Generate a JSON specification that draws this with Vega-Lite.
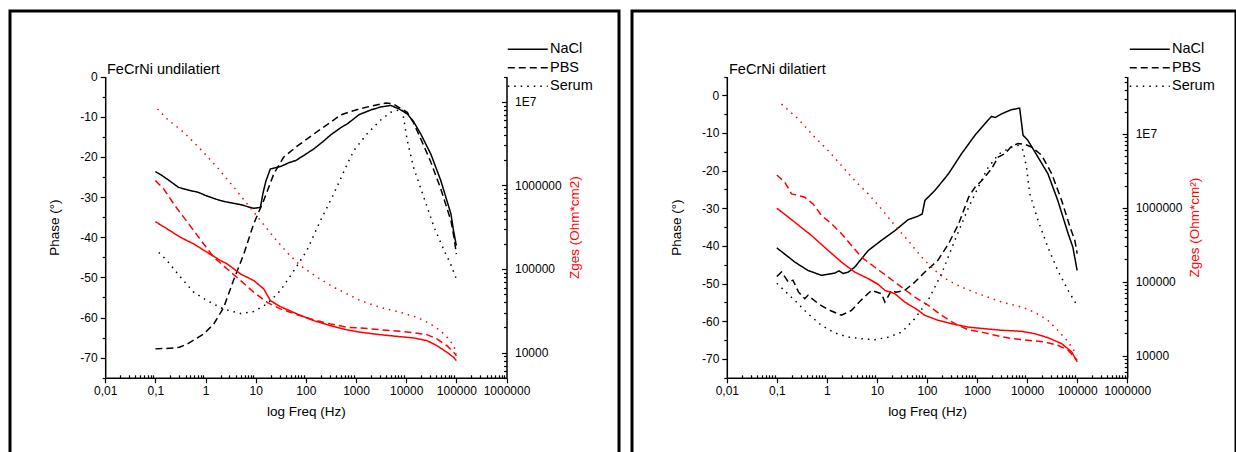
{
  "$schema": "https://vega.github.io/schema/vega-lite/v6.json",
  "padding": {"left": 8, "top": 9, "right": 0, "bottom": 0},
  "autosize": {"type": "pad"},
  "config": {
    "view": {"stroke": "black", "strokeWidth": 3},
    "font": "Liberation Sans",
    "axis": {"grid": false, "domainColor": "black", "domainWidth": 1.5, "tickColor": "black", "tickWidth": 1.2, "labelColor": "black", "labelFontSize": 12, "titleFontSize": 13.5, "titleFontWeight": "normal", "titleColor": "black", "labelFlush": false, "labelOverlap": false},
    "legend": {"orient": "none", "title": null, "symbolType": "M-4,0H4", "symbolSize": 100, "symbolStrokeWidth": 1.5, "symbolStrokeColor": "black", "labelFontSize": 14.5, "labelColor": "black", "labelOffset": 15, "padding": 0, "rowPadding": 3.5},
    "title": {"fontSize": 14.5, "fontWeight": "normal", "color": "black", "anchor": "start", "frame": "group"}
  },
  "datasets": {
    "pL": [
      {"f":0.1,"m":"NaCl","v":-23.7},{"f":0.13,"m":"NaCl","v":-24.5},{"f":0.17,"m":"NaCl","v":-25.5},{"f":0.29,"m":"NaCl","v":-27.6},{"f":0.5,"m":"NaCl","v":-28.4},{"f":0.7,"m":"NaCl","v":-28.8},{"f":1,"m":"NaCl","v":-29.6},{"f":1.5,"m":"NaCl","v":-30.4},{"f":2,"m":"NaCl","v":-30.9},{"f":2.8,"m":"NaCl","v":-31.3},{"f":5,"m":"NaCl","v":-31.9},{"f":9,"m":"NaCl","v":-32.8},{"f":12.4,"m":"NaCl","v":-32.6},{"f":14,"m":"NaCl","v":-29},{"f":16,"m":"NaCl","v":-26},{"f":19.6,"m":"NaCl","v":-23},{"f":25,"m":"NaCl","v":-22.7},{"f":31.5,"m":"NaCl","v":-22.4},{"f":45,"m":"NaCl","v":-21.5},{"f":63,"m":"NaCl","v":-20.9},{"f":90,"m":"NaCl","v":-19.7},{"f":145,"m":"NaCl","v":-18},{"f":220,"m":"NaCl","v":-16.2},{"f":315,"m":"NaCl","v":-14.5},{"f":490,"m":"NaCl","v":-12.8},{"f":670,"m":"NaCl","v":-11.8},{"f":1150,"m":"NaCl","v":-9.5},{"f":2000,"m":"NaCl","v":-8.3},{"f":3100,"m":"NaCl","v":-7.6},{"f":4900,"m":"NaCl","v":-7.2},{"f":7000,"m":"NaCl","v":-8},{"f":10500,"m":"NaCl","v":-9.3},{"f":14000,"m":"NaCl","v":-11.2},{"f":19500,"m":"NaCl","v":-14.3},{"f":31000,"m":"NaCl","v":-19.3},{"f":49000,"m":"NaCl","v":-25.9},{"f":78000,"m":"NaCl","v":-34.2},{"f":88000,"m":"NaCl","v":-38.4},{"f":100000,"m":"NaCl","v":-42.1},
      {"f":0.1,"m":"PBS","v":-67.8},{"f":0.23,"m":"PBS","v":-67.6},{"f":0.3,"m":"PBS","v":-67.4},{"f":0.43,"m":"PBS","v":-66.6},{"f":0.92,"m":"PBS","v":-64.1},{"f":1.46,"m":"PBS","v":-61.6},{"f":2.3,"m":"PBS","v":-57.5},{"f":3.6,"m":"PBS","v":-50.8},{"f":5.8,"m":"PBS","v":-44.2},{"f":9.1,"m":"PBS","v":-36.7},{"f":14.4,"m":"PBS","v":-30.9},{"f":23,"m":"PBS","v":-24.2},{"f":36,"m":"PBS","v":-20.1},{"f":66,"m":"PBS","v":-17.4},{"f":145,"m":"PBS","v":-14.3},{"f":310,"m":"PBS","v":-11.4},{"f":490,"m":"PBS","v":-9.6},{"f":780,"m":"PBS","v":-8.7},{"f":1230,"m":"PBS","v":-8},{"f":2300,"m":"PBS","v":-7.2},{"f":4000,"m":"PBS","v":-6.6},{"f":5500,"m":"PBS","v":-6.8},{"f":7000,"m":"PBS","v":-7.6},{"f":10500,"m":"PBS","v":-8.9},{"f":14000,"m":"PBS","v":-11.5},{"f":19500,"m":"PBS","v":-15.5},{"f":31000,"m":"PBS","v":-21.3},{"f":49000,"m":"PBS","v":-28},{"f":78000,"m":"PBS","v":-35.9},{"f":90000,"m":"PBS","v":-40.1},{"f":100000,"m":"PBS","v":-44.2},
      {"f":0.117,"m":"Serum","v":-43.8},{"f":0.17,"m":"Serum","v":-45.8},{"f":0.32,"m":"Serum","v":-50},{"f":0.58,"m":"Serum","v":-53.7},{"f":1.08,"m":"Serum","v":-55.8},{"f":2.3,"m":"Serum","v":-57.9},{"f":5,"m":"Serum","v":-59},{"f":9.1,"m":"Serum","v":-58.5},{"f":17,"m":"Serum","v":-56.6},{"f":31,"m":"Serum","v":-53.3},{"f":58,"m":"Serum","v":-48.3},{"f":105,"m":"Serum","v":-43.3},{"f":195,"m":"Serum","v":-35.9},{"f":360,"m":"Serum","v":-29.2},{"f":670,"m":"Serum","v":-21.8},{"f":910,"m":"Serum","v":-18.4},{"f":1650,"m":"Serum","v":-14.3},{"f":3000,"m":"Serum","v":-11},{"f":4900,"m":"Serum","v":-8.9},{"f":8300,"m":"Serum","v":-8.1},{"f":9300,"m":"Serum","v":-11.8},{"f":10500,"m":"Serum","v":-15.9},{"f":14000,"m":"Serum","v":-22.6},{"f":22500,"m":"Serum","v":-30.1},{"f":36000,"m":"Serum","v":-37.5},{"f":57000,"m":"Serum","v":-43.3},{"f":77000,"m":"Serum","v":-46.7},{"f":100000,"m":"Serum","v":-50.4}
    ],
    "zL": [
      {"f":0.1,"m":"NaCl","v":368000},{"f":0.172,"m":"NaCl","v":301000},{"f":0.317,"m":"NaCl","v":239000},{"f":0.584,"m":"NaCl","v":199000},{"f":1.08,"m":"NaCl","v":158000},{"f":1.99,"m":"NaCl","v":126000},{"f":2.7,"m":"NaCl","v":115000},{"f":5,"m":"NaCl","v":87100},{"f":9.2,"m":"NaCl","v":72600},{"f":14.5,"m":"NaCl","v":57700},{"f":19.7,"m":"NaCl","v":41800},{"f":31,"m":"NaCl","v":35500},{"f":67,"m":"NaCl","v":29000},{"f":144,"m":"NaCl","v":24100},{"f":310,"m":"NaCl","v":21000},{"f":668,"m":"NaCl","v":18700},{"f":1230,"m":"NaCl","v":17500},{"f":3000,"m":"NaCl","v":16400},{"f":7600,"m":"NaCl","v":15500},{"f":14000,"m":"NaCl","v":15000},{"f":26000,"m":"NaCl","v":13900},{"f":41000,"m":"NaCl","v":12100},{"f":65000,"m":"NaCl","v":10100},{"f":88000,"m":"NaCl","v":8790},{"f":100000,"m":"NaCl","v":8020},
      {"f":0.1,"m":"PBS","v":1138000},{"f":0.147,"m":"PBS","v":904000},{"f":0.233,"m":"PBS","v":598000},{"f":0.368,"m":"PBS","v":414000},{"f":0.584,"m":"PBS","v":287000},{"f":0.92,"m":"PBS","v":199000},{"f":1.46,"m":"PBS","v":138000},{"f":2.7,"m":"PBS","v":100000},{"f":5,"m":"PBS","v":72600},{"f":9.2,"m":"PBS","v":52600},{"f":17,"m":"PBS","v":39900},{"f":31,"m":"PBS","v":33300},{"f":67,"m":"PBS","v":28400},{"f":144,"m":"PBS","v":24600},{"f":310,"m":"PBS","v":22000},{"f":668,"m":"PBS","v":20100},{"f":1230,"m":"PBS","v":19700},{"f":3000,"m":"PBS","v":18800},{"f":7600,"m":"PBS","v":18000},{"f":14000,"m":"PBS","v":17300},{"f":26000,"m":"PBS","v":16400},{"f":41000,"m":"PBS","v":14600},{"f":65000,"m":"PBS","v":12100},{"f":95000,"m":"PBS","v":9640},{"f":100000,"m":"PBS","v":9120},
      {"f":0.11,"m":"Serum","v":8180000},{"f":0.172,"m":"Serum","v":6210000},{"f":0.368,"m":"Serum","v":4300000},{"f":0.79,"m":"Serum","v":2720000},{"f":1.71,"m":"Serum","v":1640000},{"f":3.67,"m":"Serum","v":946000},{"f":6.8,"m":"Serum","v":598000},{"f":12.5,"m":"Serum","v":378000},{"f":23,"m":"Serum","v":239000},{"f":42,"m":"Serum","v":158000},{"f":78,"m":"Serum","v":110000},{"f":169,"m":"Serum","v":79400},{"f":361,"m":"Serum","v":60400},{"f":776,"m":"Serum","v":48000},{"f":1230,"m":"Serum","v":41800},{"f":3000,"m":"Serum","v":34800},{"f":7700,"m":"Serum","v":30300},{"f":16600,"m":"Serum","v":26400},{"f":30500,"m":"Serum","v":22000},{"f":48000,"m":"Serum","v":18300},{"f":65800,"m":"Serum","v":15200},{"f":89000,"m":"Serum","v":12100},{"f":100000,"m":"Serum","v":9640}
    ],
    "pR": [
      {"f":0.1,"m":"NaCl","v":-40.5},{"f":0.23,"m":"NaCl","v":-44.3},{"f":0.42,"m":"NaCl","v":-46.5},{"f":0.78,"m":"NaCl","v":-47.8},{"f":1.44,"m":"NaCl","v":-47.2},{"f":1.75,"m":"NaCl","v":-46.6},{"f":2.1,"m":"NaCl","v":-47.3},{"f":2.7,"m":"NaCl","v":-46.9},{"f":3.6,"m":"NaCl","v":-45.6},{"f":6.7,"m":"NaCl","v":-41.2},{"f":12.3,"m":"NaCl","v":-38.5},{"f":23,"m":"NaCl","v":-35.9},{"f":42,"m":"NaCl","v":-33},{"f":66,"m":"NaCl","v":-32.1},{"f":80,"m":"NaCl","v":-31.5},{"f":91,"m":"NaCl","v":-27.9},{"f":145,"m":"NaCl","v":-25.2},{"f":270,"m":"NaCl","v":-20.8},{"f":490,"m":"NaCl","v":-15.5},{"f":910,"m":"NaCl","v":-10.6},{"f":1650,"m":"NaCl","v":-6.6},{"f":1950,"m":"NaCl","v":-5.6},{"f":2300,"m":"NaCl","v":-5.9},{"f":3100,"m":"NaCl","v":-4.9},{"f":4900,"m":"NaCl","v":-3.8},{"f":7100,"m":"NaCl","v":-3.4},{"f":8300,"m":"NaCl","v":-10.6},{"f":10300,"m":"NaCl","v":-11.9},{"f":16500,"m":"NaCl","v":-16.4},{"f":26000,"m":"NaCl","v":-20.8},{"f":41000,"m":"NaCl","v":-27.9},{"f":66000,"m":"NaCl","v":-36.7},{"f":82000,"m":"NaCl","v":-40.3},{"f":100000,"m":"NaCl","v":-46.5},
      {"f":0.1,"m":"PBS","v":-48.1},{"f":0.124,"m":"PBS","v":-46.9},{"f":0.17,"m":"PBS","v":-49.6},{"f":0.21,"m":"PBS","v":-49.1},{"f":0.27,"m":"PBS","v":-52.2},{"f":0.36,"m":"PBS","v":-54},{"f":0.42,"m":"PBS","v":-53.1},{"f":0.67,"m":"PBS","v":-55.3},{"f":1.06,"m":"PBS","v":-56.9},{"f":1.95,"m":"PBS","v":-58.4},{"f":3.1,"m":"PBS","v":-57.1},{"f":4.9,"m":"PBS","v":-54.3},{"f":7.8,"m":"PBS","v":-51.8},{"f":12.4,"m":"PBS","v":-52.7},{"f":14.4,"m":"PBS","v":-54.9},{"f":19.5,"m":"PBS","v":-51.8},{"f":24,"m":"PBS","v":-52.3},{"f":36,"m":"PBS","v":-51.8},{"f":57,"m":"PBS","v":-49.6},{"f":91,"m":"PBS","v":-46.9},{"f":165,"m":"PBS","v":-43.8},{"f":270,"m":"PBS","v":-39.4},{"f":430,"m":"PBS","v":-34.1},{"f":680,"m":"PBS","v":-27},{"f":910,"m":"PBS","v":-24.4},{"f":1230,"m":"PBS","v":-22.7},{"f":1950,"m":"PBS","v":-19.5},{"f":2650,"m":"PBS","v":-16.4},{"f":3600,"m":"PBS","v":-15.5},{"f":4900,"m":"PBS","v":-13.5},{"f":6600,"m":"PBS","v":-12.8},{"f":9000,"m":"PBS","v":-13},{"f":12200,"m":"PBS","v":-13.7},{"f":19500,"m":"PBS","v":-15.9},{"f":31000,"m":"PBS","v":-20.8},{"f":49000,"m":"PBS","v":-27.9},{"f":72000,"m":"PBS","v":-35},{"f":90000,"m":"PBS","v":-38.5},{"f":100000,"m":"PBS","v":-42},
      {"f":0.1,"m":"Serum","v":-49.9},{"f":0.14,"m":"Serum","v":-51.8},{"f":0.23,"m":"Serum","v":-54.5},{"f":0.42,"m":"Serum","v":-58},{"f":0.78,"m":"Serum","v":-61.1},{"f":1.44,"m":"Serum","v":-63.1},{"f":2.7,"m":"Serum","v":-64.2},{"f":4.9,"m":"Serum","v":-64.6},{"f":9.1,"m":"Serum","v":-64.9},{"f":17,"m":"Serum","v":-64.2},{"f":31,"m":"Serum","v":-62.9},{"f":57,"m":"Serum","v":-59.3},{"f":105,"m":"Serum","v":-54.5},{"f":195,"m":"Serum","v":-47.4},{"f":360,"m":"Serum","v":-38.5},{"f":680,"m":"Serum","v":-29.7},{"f":1050,"m":"Serum","v":-24.5},{"f":1600,"m":"Serum","v":-19.5},{"f":2700,"m":"Serum","v":-15.6},{"f":4600,"m":"Serum","v":-13.9},{"f":6600,"m":"Serum","v":-13.3},{"f":8300,"m":"Serum","v":-14.6},{"f":9700,"m":"Serum","v":-19},{"f":11300,"m":"Serum","v":-26.1},{"f":16500,"m":"Serum","v":-33.2},{"f":26000,"m":"Serum","v":-40.3},{"f":41000,"m":"Serum","v":-46.5},{"f":66000,"m":"Serum","v":-51.8},{"f":100000,"m":"Serum","v":-55.8}
    ],
    "zR": [
      {"f":0.1,"m":"NaCl","v":988000},{"f":0.229,"m":"NaCl","v":638000},{"f":0.49,"m":"NaCl","v":423000},{"f":1.06,"m":"NaCl","v":265000},{"f":1.96,"m":"NaCl","v":184000},{"f":3.6,"m":"NaCl","v":135000},{"f":6.7,"m":"NaCl","v":110000},{"f":10.6,"m":"NaCl","v":92000},{"f":14.4,"m":"NaCl","v":76200},{"f":22.7,"m":"NaCl","v":68900},{"f":36,"m":"NaCl","v":53000},{"f":67,"m":"NaCl","v":40900},{"f":90,"m":"NaCl","v":35100},{"f":167,"m":"NaCl","v":30000},{"f":309,"m":"NaCl","v":27000},{"f":666,"m":"NaCl","v":24300},{"f":1230,"m":"NaCl","v":23300},{"f":3100,"m":"NaCl","v":22000},{"f":7800,"m":"NaCl","v":21300},{"f":14000,"m":"NaCl","v":19800},{"f":26000,"m":"NaCl","v":17500},{"f":49000,"m":"NaCl","v":14500},{"f":78000,"m":"NaCl","v":11200},{"f":100000,"m":"NaCl","v":8200},
      {"f":0.1,"m":"PBS","v":2790000},{"f":0.144,"m":"PBS","v":2220000},{"f":0.196,"m":"PBS","v":1545000},{"f":0.23,"m":"PBS","v":1510000},{"f":0.36,"m":"PBS","v":1390000},{"f":0.53,"m":"PBS","v":1130000},{"f":0.78,"m":"PBS","v":787000},{"f":1.24,"m":"PBS","v":608000},{"f":1.96,"m":"PBS","v":446000},{"f":3.1,"m":"PBS","v":310000},{"f":4.9,"m":"PBS","v":215000},{"f":9.1,"m":"PBS","v":157000},{"f":16.8,"m":"PBS","v":115000},{"f":31,"m":"PBS","v":84500},{"f":57,"m":"PBS","v":61900},{"f":106,"m":"PBS","v":47900},{"f":195,"m":"PBS","v":35100},{"f":359,"m":"PBS","v":27000},{"f":666,"m":"PBS","v":22400},{"f":1230,"m":"PBS","v":20800},{"f":2300,"m":"PBS","v":18800},{"f":4900,"m":"PBS","v":17000},{"f":10300,"m":"PBS","v":16100},{"f":22000,"m":"PBS","v":15300},{"f":41000,"m":"PBS","v":13800},{"f":66000,"m":"PBS","v":11800},{"f":100000,"m":"PBS","v":8630},
      {"f":0.124,"m":"Serum","v":25400000},{"f":0.267,"m":"Serum","v":16000000},{"f":0.573,"m":"Serum","v":9020000},{"f":1.06,"m":"Serum","v":5960000},{"f":1.96,"m":"Serum","v":3730000},{"f":3.6,"m":"Serum","v":2340000},{"f":6.7,"m":"Serum","v":1545000},{"f":12.3,"m":"Serum","v":968000},{"f":22.7,"m":"Serum","v":577000},{"f":42,"m":"Serum","v":361000},{"f":78,"m":"Serum","v":215000},{"f":143,"m":"Serum","v":142000},{"f":265,"m":"Serum","v":104000},{"f":489,"m":"Serum","v":84500},{"f":1050,"m":"Serum","v":68900},{"f":3100,"m":"Serum","v":53000},{"f":7800,"m":"Serum","v":45400},{"f":14000,"m":"Serum","v":38800},{"f":26000,"m":"Serum","v":30000},{"f":41000,"m":"Serum","v":22000},{"f":66000,"m":"Serum","v":15300},{"f":100000,"m":"Serum","v":10100}
    ]
  },
  "resolve": {"scale": {"strokeDash": "independent"}, "legend": {"strokeDash": "independent"}},
  "spacing": 9,
  "hconcat": [
    {
      "width": 609, "height": 460,
      "title": {"text": "FeCrNi undilatiert", "dx": 97, "dy": 70},
      "layer": [
        {
          "data": {"name": "pL"},
          "mark": {"type": "line", "color": "black", "strokeWidth": 1.5},
          "encoding": {
            "x": {"field": "f", "type": "quantitative", "scale": {"type": "log", "domain": [0.01, 1000000], "range": [95.2, 496.5]},
              "axis": {"values": [0.01,0.02,0.03,0.04,0.05,0.06,0.07,0.08,0.09,0.1,0.2,0.3,0.4,0.5,0.6,0.7,0.8,0.9,1,2,3,4,5,6,7,8,9,10,20,30,40,50,60,70,80,90,100,200,300,400,500,600,700,800,900,1000,2000,3000,4000,5000,6000,7000,8000,9000,10000,20000,30000,40000,50000,60000,70000,80000,90000,100000,200000,300000,400000,500000,600000,700000,800000,900000,1000000],
                "labelExpr": "abs(log(datum.value)/LN10 - round(log(datum.value)/LN10)) < 0.001 ? replace(format(datum.value,'~f'),'.',',') : ''",
                "tickSize": {"condition": {"test": "abs(log(datum.value)/LN10 - round(log(datum.value)/LN10)) < 0.001", "value": 5}, "value": -3},
                "labelPadding": 3, "title": "log Freq (Hz)", "titlePadding": 8, "offset": -93.2}},
            "y": {"field": "v", "type": "quantitative", "scale": {"domain": [-75, 0], "range": [366.8, 65.5]},
              "axis": {"orient": "left", "values": [-75,-70,-65,-60,-55,-50,-45,-40,-35,-30,-25,-20,-15,-10,-5,0],
                "labelExpr": "datum.value % 10 == 0 ? '' + datum.value : ''",
                "tickSize": {"condition": {"test": "datum.value % 10 == 0", "value": 5}, "value": 3},
                "labelPadding": 3, "title": "Phase (°)", "titlePadding": 18, "offset": -95.2}},
            "strokeDash": {"field": "m", "type": "nominal", "scale": {"domain": ["NaCl","PBS","Serum"], "range": [[1,0],[7,4],[1.5,5]]},
              "legend": {"legendX": 510.5, "legendY": 31}}
          }
        },
        {
          "data": {"name": "zL"},
          "mark": {"type": "line", "color": "#ff0000", "strokeWidth": 1.5},
          "encoding": {
            "x": {"field": "f", "type": "quantitative", "scale": {"type": "log", "domain": [0.01, 1000000], "range": [95.2, 496.5]}},
            "y": {"field": "v", "type": "quantitative", "scale": {"type": "log", "domain": [5000, 20000000], "range": [366.8, 65.5]},
              "axis": {"orient": "right", "values": [5000,6000,7000,8000,9000,10000,20000,30000,40000,50000,60000,70000,80000,90000,100000,200000,300000,400000,500000,600000,700000,800000,900000,1000000,2000000,3000000,4000000,5000000,6000000,7000000,8000000,9000000,10000000,20000000],
                "labelExpr": "datum.value == 10000000 ? '1E7' : (datum.value == 10000 || datum.value == 100000 || datum.value == 1000000) ? format(datum.value,'d') : ''",
                "tickSize": {"condition": {"test": "datum.value == 10000 || datum.value == 100000 || datum.value == 1000000 || datum.value == 10000000", "value": -5}, "value": -3},
                "labelPadding": 13, "title": "Zges (Ohm*cm2)", "titleColor": "#ff0000", "titleAngle": 270, "titlePadding": 20, "offset": -112.5}},
            "strokeDash": {"field": "m", "type": "nominal"}
          }
        }
      ],
      "resolve": {"scale": {"y": "independent"}}
    },
    {
      "width": 604, "height": 460,
      "title": {"text": "FeCrNi dilatiert", "dx": 97, "dy": 70},
      "layer": [
        {
          "data": {"name": "pR"},
          "mark": {"type": "line", "color": "black", "strokeWidth": 1.5},
          "encoding": {
            "x": {"field": "f", "type": "quantitative", "scale": {"type": "log", "domain": [0.01, 1000000], "range": [94.8, 495.2]},
              "axis": {"values": [0.01,0.02,0.03,0.04,0.05,0.06,0.07,0.08,0.09,0.1,0.2,0.3,0.4,0.5,0.6,0.7,0.8,0.9,1,2,3,4,5,6,7,8,9,10,20,30,40,50,60,70,80,90,100,200,300,400,500,600,700,800,900,1000,2000,3000,4000,5000,6000,7000,8000,9000,10000,20000,30000,40000,50000,60000,70000,80000,90000,100000,200000,300000,400000,500000,600000,700000,800000,900000,1000000],
                "labelExpr": "abs(log(datum.value)/LN10 - round(log(datum.value)/LN10)) < 0.001 ? replace(format(datum.value,'~f'),'.',',') : ''",
                "tickSize": {"condition": {"test": "abs(log(datum.value)/LN10 - round(log(datum.value)/LN10)) < 0.001", "value": 5}, "value": -3},
                "labelPadding": 3, "title": "log Freq (Hz)", "titlePadding": 8, "offset": -93.2}},
            "y": {"field": "v", "type": "quantitative", "scale": {"domain": [-75, 5], "range": [366.8, 65.5]},
              "axis": {"orient": "left", "values": [-75,-70,-65,-60,-55,-50,-45,-40,-35,-30,-25,-20,-15,-10,-5,0,5],
                "labelExpr": "datum.value % 10 == 0 ? '' + datum.value : ''",
                "tickSize": {"condition": {"test": "datum.value % 10 == 0", "value": 5}, "value": 3},
                "labelPadding": 3, "title": "Phase (°)", "titlePadding": 18, "offset": -94.8}},
            "strokeDash": {"field": "m", "type": "nominal", "scale": {"domain": ["NaCl","PBS","Serum"], "range": [[1,0],[7,4],[1.5,5]]},
              "legend": {"legendX": 510.5, "legendY": 31}}
          }
        },
        {
          "data": {"name": "zR"},
          "mark": {"type": "line", "color": "#ff0000", "strokeWidth": 1.5},
          "encoding": {
            "x": {"field": "f", "type": "quantitative", "scale": {"type": "log", "domain": [0.01, 1000000], "range": [94.8, 495.2]}},
            "y": {"field": "v", "type": "quantitative", "scale": {"type": "log", "domain": [5000, 60000000], "range": [366.8, 65.5]},
              "axis": {"orient": "right", "values": [5000,6000,7000,8000,9000,10000,20000,30000,40000,50000,60000,70000,80000,90000,100000,200000,300000,400000,500000,600000,700000,800000,900000,1000000,2000000,3000000,4000000,5000000,6000000,7000000,8000000,9000000,10000000,20000000,30000000,40000000,50000000,60000000],
                "labelExpr": "datum.value == 10000000 ? '1E7' : (datum.value == 10000 || datum.value == 100000 || datum.value == 1000000) ? format(datum.value,'d') : ''",
                "tickSize": {"condition": {"test": "datum.value == 10000 || datum.value == 100000 || datum.value == 1000000 || datum.value == 10000000", "value": -5}, "value": -3},
                "labelPadding": 13, "title": "Zges (Ohm*cm²)", "titleColor": "#ff0000", "titleAngle": 270, "titlePadding": 20, "offset": -108.8}},
            "strokeDash": {"field": "m", "type": "nominal"}
          }
        }
      ],
      "resolve": {"scale": {"y": "independent"}}
    }
  ]
}
